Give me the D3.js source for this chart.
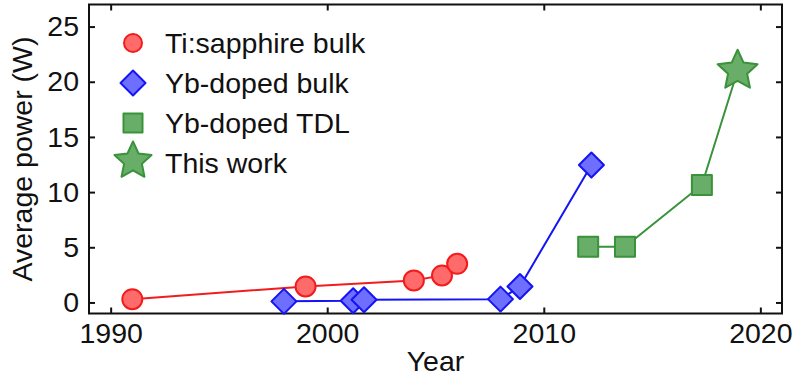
<!DOCTYPE html>
<html>
<head>
<meta charset="utf-8">
<script src="https://cdn.jsdelivr.net/npm/d3@7"></script>
<style>
  html, body { margin: 0; padding: 0; background: #fff; }
  svg { display: block; font-family: "Liberation Sans", Arial, sans-serif; }
</style>
</head>
<body>
<div id="hook-chart"></div>
<script>
'use strict';

// series values (year, average power in W)
var tiSapphireYears = [1991, 1999, 2004, 2005.3, 2006];
var tiSapphirePower = [0.3, 1.45, 2.0, 2.45, 3.5];

var ybBulkYears = [1998, 2001.2, 2001.7, 2008, 2008.9, 2012.2];
var ybBulkPower = [0.1, 0.15, 0.25, 0.3, 1.45, 12.45];

var ybTdlYears = [2012.05, 2013.75, 2017.3];
var ybTdlPower = [5.05, 5.05, 10.65];

var thisWorkYears = [2018.95];
var thisWorkPower = [21.0];

var xTicks = [1990, 2000, 2010, 2020];
var yTicks = [0, 5, 10, 15, 20, 25];

var legendLabels = ['Ti:sapphire bulk', 'Yb-doped bulk', 'Yb-doped TDL', 'This work'];

(function() {

var options = {
  width: 807,
  height: 378,
  left: 89,
  right: 782,
  top: 4.5,
  bottom: 313.5,
  fontSize: 28.5,
  tickLen: 6
};

function zip(xs, ys) {
  return xs.map(function(x, i) { return { x: x, y: ys[i] }; });
}

function starPath(R, r) {
  var pts = [], k;
  for (k = 0; k < 10; k++) {
    var rad = k % 2 === 0 ? R : r;
    var a = -Math.PI / 2 + k * Math.PI / 5;
    pts.push([rad * Math.cos(a), rad * Math.sin(a)]);
  }
  return 'M' + pts.map(function(p) { return p[0].toFixed(2) + ',' + p[1].toFixed(2); }).join('L') + 'Z';
}

var styles = [
  { shape: 'circle',  fill: '#ff6b6b', stroke: '#f21c1c', line: '#f21c1c' },
  { shape: 'diamond', fill: '#6f6fff', stroke: '#1414f5', line: '#1414f5' },
  { shape: 'square',  fill: '#68ad68', stroke: '#3a923a', line: '#3a923a' },
  { shape: 'star',    fill: '#68ad68', stroke: '#3a923a', line: '#3a923a' }
];

function drawMarker(g, shape, st, big) {
  if (shape === 'circle') {
    g.append('circle').attr('r', big ? 10 : 9);
  } else if (shape === 'diamond') {
    var h = 12.5;
    g.append('path').attr('d', 'M0,' + (-h) + 'L' + h + ',0L0,' + h + 'L' + (-h) + ',0Z');
  } else if (shape === 'square') {
    var s = big ? 20 : 19;
    g.append('rect').attr('x', -s / 2).attr('y', -s / 2).attr('width', s).attr('height', s);
  } else {
    var R = big ? 21 : 19.5;
    g.append('path').attr('d', starPath(R, R * 0.48));
  }
  g.selectAll('*')
    .style('fill', st.fill)
    .style('stroke', st.stroke)
    .style('stroke-width', 2)
    .style('stroke-linejoin', 'round');
}

function update(options) {

  var svg = d3.select('#hook-chart')
    .append('svg')
    .attr('width', options.width)
    .attr('height', options.height);

  var x = d3.scaleLinear().domain([1989, 2021]).range([options.left, options.right]);
  var y = d3.scaleLinear().domain([-1, 27]).range([options.bottom, options.top]);

  // axes: inward ticks on all four sides, labels on bottom and left
  var bottomAxis = svg.append('g')
    .attr('transform', 'translate(0,' + options.bottom + ')')
    .call(d3.axisBottom(x).tickValues(xTicks).tickFormat(d3.format('d'))
      .tickSizeInner(-options.tickLen).tickSizeOuter(0).tickPadding(9));
  var topAxis = svg.append('g')
    .attr('transform', 'translate(0,' + options.top + ')')
    .call(d3.axisTop(x).tickValues(xTicks).tickFormat('')
      .tickSizeInner(-options.tickLen).tickSizeOuter(0));
  var leftAxis = svg.append('g')
    .attr('transform', 'translate(' + options.left + ',0)')
    .call(d3.axisLeft(y).tickValues(yTicks)
      .tickSizeInner(-options.tickLen).tickSizeOuter(0).tickPadding(10));
  var rightAxis = svg.append('g')
    .attr('transform', 'translate(' + options.right + ',0)')
    .call(d3.axisRight(y).tickValues(yTicks).tickFormat('')
      .tickSizeInner(-options.tickLen).tickSizeOuter(0));

  [bottomAxis, topAxis, leftAxis, rightAxis].forEach(function(a) {
    a.select('.domain').remove();
    a.selectAll('line').style('stroke', '#111').style('stroke-width', 2);
    a.selectAll('text')
      .style('font-size', options.fontSize + 'px')
      .style('font-family', '"Liberation Sans", Arial, sans-serif')
      .style('fill', '#111');
  });

  svg.append('rect')
    .attr('x', options.left)
    .attr('y', options.top)
    .attr('width', options.right - options.left)
    .attr('height', options.bottom - options.top)
    .style('fill', 'none')
    .style('stroke', '#111')
    .style('stroke-width', 2);

  svg.append('text')
    .attr('x', (options.left + options.right) / 2)
    .attr('y', 371)
    .attr('text-anchor', 'middle')
    .style('font-size', options.fontSize + 'px')
    .style('fill', '#111')
    .text('Year');

  svg.append('text')
    .attr('transform', 'translate(32,' + ((options.top + options.bottom) / 2) + ') rotate(-90)')
    .attr('text-anchor', 'middle')
    .style('font-size', options.fontSize + 'px')
    .style('fill', '#111')
    .text('Average power (W)');

  var series = [
    zip(tiSapphireYears, tiSapphirePower),
    zip(ybBulkYears, ybBulkPower),
    zip(ybTdlYears, ybTdlPower),
    zip(thisWorkYears, thisWorkPower)
  ];

  var line = d3.line()
    .x(function(d) { return x(d.x); })
    .y(function(d) { return y(d.y); });

  // green TDL line runs on to this work's star
  var lineData = [series[0], series[1], series[2].concat(series[3]), null];

  var i;
  for (i = 0; i < series.length; ++i) {
    var st = styles[i];
    if (lineData[i]) {
      svg.append('path')
        .datum(lineData[i])
        .attr('d', line)
        .style('fill', 'none')
        .style('stroke', st.line)
        .style('stroke-width', 2);
    }
    series[i].forEach(function(d) {
      var g = svg.append('g')
        .attr('transform', 'translate(' + x(d.x) + ',' + y(d.y) + ')');
      drawMarker(g, st.shape, st, true);
    });
  }

  // legend
  var legend = svg.append('g');
  legendLabels.forEach(function(label, k) {
    var cy = 43 + k * 40 - (k === 3 ? 2 : 0);
    var g = legend.append('g').attr('transform', 'translate(133,' + cy + ')');
    drawMarker(g, styles[k].shape, styles[k], false);
    legend.append('text')
      .attr('x', 165)
      .attr('y', 43 + k * 40 + 10)
      .style('font-size', options.fontSize + 'px')
      .style('fill', '#111')
      .text(label);
  });
}

update(options);

}());
</script>
</body>
</html>
